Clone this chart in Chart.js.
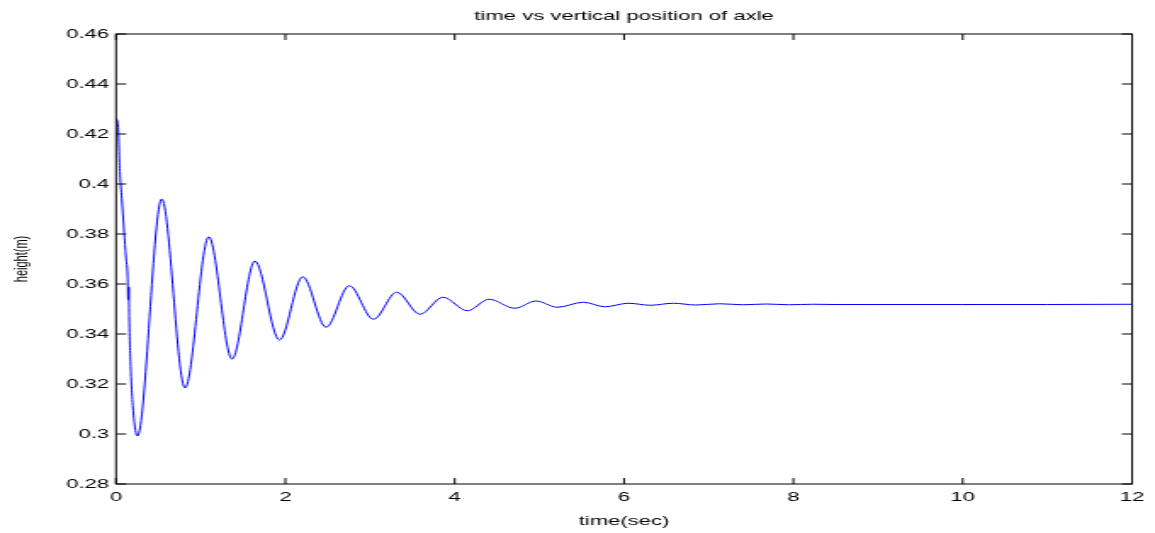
<!DOCTYPE html>
<html>
<head>
<meta charset="utf-8">
<title>time vs vertical position of axle</title>
<script src="https://cdn.jsdelivr.net/npm/chart.js@4/dist/chart.umd.min.js"></script>
<style>
  html, body { margin: 0; padding: 0; background: #fff; }
</style>
</head>
<body>
<!-- the original figure is stretched sideways, so the canvas is drawn narrow and scaled up -->
<canvas id="chart" width="680" height="533" style="display:block;width:1155px;height:533px"></canvas>
<script>
// time (s) and axle height (m)
const times = [
  0, 0.024, 0.047, 0.071, 0.094, 0.118, 0.136, 0.144, 0.151, 0.156, 0.175, 0.215, 0.252,
  0.54, 0.815, 1.095, 1.37, 1.64, 1.93, 2.205, 2.48, 2.755, 3.04, 3.315, 3.59,
  3.86, 4.15, 4.405, 4.71, 4.96, 5.21, 5.52, 5.775, 6.05, 6.31, 6.58,
  6.85, 7.13, 7.4, 7.68, 7.95, 8.23, 8.5, 9, 10, 11, 12
];
const heights = [
  0.4264, 0.4232, 0.404, 0.3928, 0.3816, 0.3704, 0.3636, 0.3536, 0.3588, 0.3464, 0.325, 0.305, 0.2992,
  0.3940, 0.3184, 0.3789, 0.3300, 0.3692, 0.3376, 0.3629, 0.3427, 0.3593, 0.3459, 0.3567, 0.3479,
  0.3547, 0.3493, 0.3539, 0.3503, 0.3532, 0.3507, 0.3527, 0.3509, 0.3523, 0.3515, 0.3523,
  0.3516, 0.3521, 0.3517, 0.3520, 0.3517, 0.3519, 0.3518, 0.3518, 0.3518, 0.3518, 0.3519
];

// axis ranges and tick steps
const xRange = [0, 12];
const xStep = 2;
const yRange = [0.28, 0.46];
const yStep = 0.02;

const titleText = 'time vs vertical position of axle';
const xLabel = 'time(sec)';
const yLabel = 'height(m)';

Chart.defaults.font.family = "'Liberation Sans', Arial, Helvetica, sans-serif";
Chart.defaults.color = '#000';

// Box around the plot with small inward ticks on all four sides
const boxPlugin = {
  id: 'box',
  afterDraw(chart) {
    const { ctx, chartArea: { left, right, top, bottom }, scales: { x, y } } = chart;
    const tick = 6;
    ctx.save();
    ctx.strokeStyle = '#000';
    ctx.lineWidth = 1;
    ctx.strokeRect(left, top, right - left, bottom - top);
    ctx.beginPath();
    x.ticks.forEach(t => {
      const px = x.getPixelForValue(t.value);
      ctx.moveTo(px, bottom); ctx.lineTo(px, bottom - tick);
      ctx.moveTo(px, top); ctx.lineTo(px, top + tick);
    });
    y.ticks.forEach(t => {
      const py = y.getPixelForValue(t.value);
      ctx.moveTo(left, py); ctx.lineTo(left + tick, py);
      ctx.moveTo(right, py); ctx.lineTo(right - tick, py);
    });
    ctx.stroke();
    ctx.restore();
  }
};

function createChart(canvasId) {
  const ctx = document.getElementById(canvasId).getContext('2d');

  return new Chart(ctx, {
    type: 'line',
    data: {
      datasets: [{
        data: times.map((t, i) => ({ x: t, y: heights[i] })),
        borderColor: '#0000ff',
        borderWidth: 1,
        pointRadius: 0,
        cubicInterpolationMode: 'monotone',
        fill: false
      }]
    },
    options: {
      responsive: false,
      devicePixelRatio: 1,
      animation: false,
      layout: { padding: { left: 0, right: 13.5, top: 0, bottom: 0 } },
      plugins: {
        legend: { display: false },
        tooltip: { enabled: false },
        title: {
          display: true,
          fullSize: false,   // centre over the plot, not the whole canvas
          text: titleText,
          font: { size: 13, weight: 'normal' },
          padding: { top: 9, bottom: 9.4 }
        }
      },
      scales: {
        x: {
          type: 'linear',
          min: xRange[0],
          max: xRange[1],
          grid: { display: false, drawTicks: false },
          border: { display: false },
          ticks: { stepSize: xStep, padding: 6, font: { size: 13 } },
          title: { display: true, text: xLabel, font: { size: 13 }, padding: { top: 0, bottom: 4 } },
          afterFit(scale) { scale.height = 49; }
        },
        y: {
          min: yRange[0],
          max: yRange[1],
          grid: { display: false, drawTicks: false },
          border: { display: false },
          ticks: {
            stepSize: yStep,
            padding: 4,
            font: { size: 13 },
            callback: v => String(Number(v.toFixed(2)))
          },
          title: { display: true, text: yLabel, font: { size: 11 }, padding: { top: 6, bottom: 0 } },
          afterFit(scale) { scale.width = 68.3; }
        }
      }
    },
    plugins: [boxPlugin]
  });
}

createChart('chart');
</script>
</body>
</html>
